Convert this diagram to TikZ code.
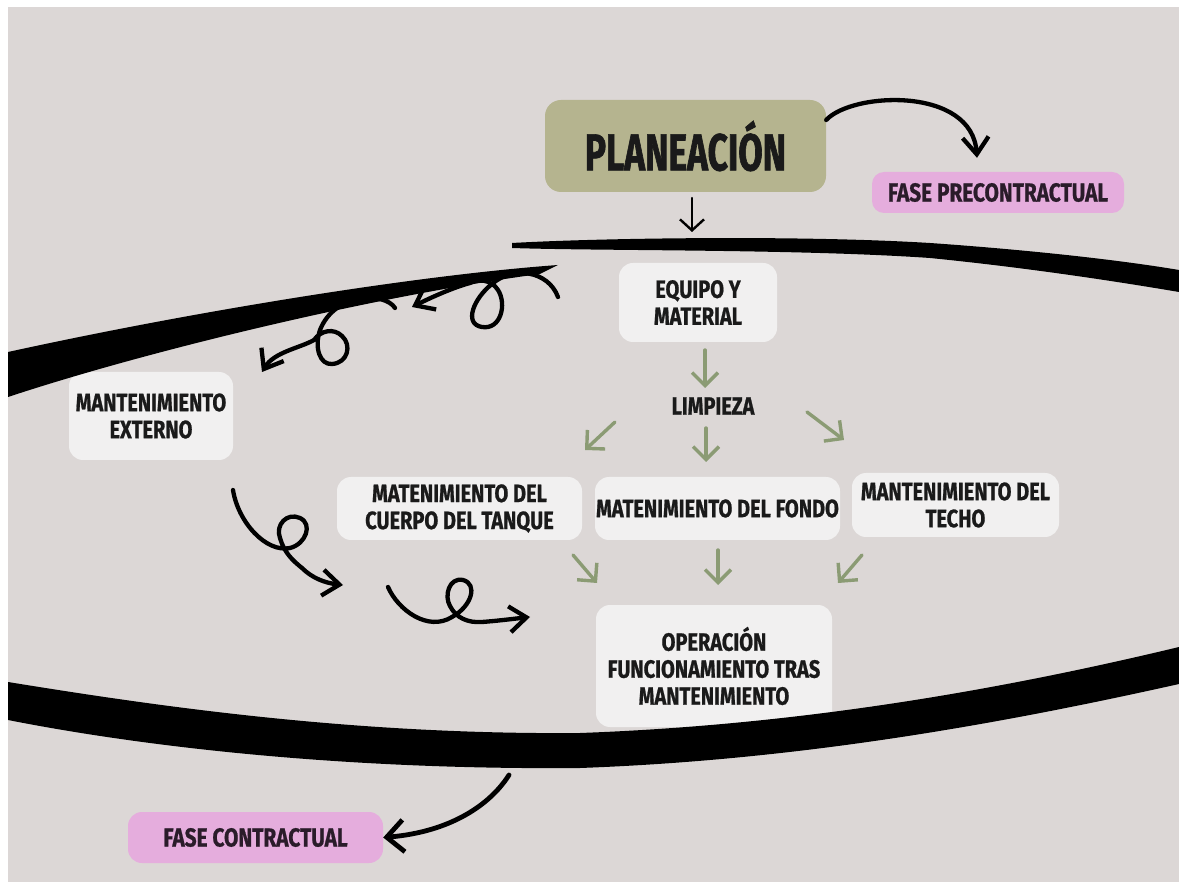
\documentclass[tikz,border=0pt]{standalone}
\usepackage{fontspec}
\setmainfont{Fira Sans}
\newfontfamily\bigf{Fira Sans}[FakeStretch=0.68, FakeBold=1.2]
\newfontfamily\smf{Fira Sans}[FakeStretch=0.8, FakeBold=0.8]
\usetikzlibrary{arrows.meta}
\definecolor{bgc}{HTML}{DCD7D6}
\definecolor{boxc}{HTML}{F1F0F0}
\definecolor{olivec}{HTML}{B5B48F}
\definecolor{pinkc}{HTML}{E5ADDD}
\definecolor{greenc}{HTML}{8B9B74}
\definecolor{txtc}{HTML}{1A1A1A}
\definecolor{txtp}{HTML}{2A1C2A}
\tikzset{
  box/.style={rounded corners=14pt, fill=boxc, align=center, inner sep=0pt,
    text=txtc, font=\smf\bfseries\fontsize{25}{27}\selectfont},
  lbl/.style={align=center, inner sep=0pt, text=txtc, font=\smf\bfseries\fontsize{25}{27}\selectfont},
  swirl/.style={draw=black, line width=4.3pt, line cap=round, line join=round,
    -{Straight Barb[length=17pt,width=26pt]}},
  bigarrow/.style={draw=black, line width=4.8pt, line cap=round,
    -{Straight Barb[length=17pt,width=32pt]}},
  garrow/.style={draw=greenc, line width=3.4pt, line cap=round,
    -{Straight Barb[length=13pt,width=26pt]}},
  thinarrow/.style={draw=black, line width=2.4pt, line cap=round,
    -{Straight Barb[length=11pt,width=24pt]}},
  band/.style={fill=black}
}
\begin{document}
\begin{tikzpicture}[x=1pt,y=-1pt]
\useasboundingbox (0,0) rectangle (1179,882);
\fill[white] (0,0) rectangle (1179,882);
\fill[bgc] (8,7) rectangle (1179,882);

% nodes
\node[box, fill=olivec, minimum width=281pt, minimum height=92pt, rounded corners=16pt,
  font=\bigf\bfseries\fontsize{52}{54}\selectfont] (plan) at (685.5,146) {PLANEACIÓN};
\node[box, fill=pinkc, text=txtp, minimum width=252pt, minimum height=41pt, rounded corners=12pt,
  font=\smf\bfseries\fontsize{26}{28}\selectfont]
  (pre) at (998,192.5) {FASE PRECONTRACTUAL};
\node[box, minimum width=158pt, minimum height=79pt] (eq) at (698,302.5) {EQUIPO Y\\MATERIAL};
\node[lbl] (limp) at (713,406) {LIMPIEZA};
\node[box, minimum width=164pt, minimum height=88pt] (ext) at (151,416) {MANTENIMIENTO\\EXTERNO};
\node[box, minimum width=245pt, minimum height=63pt] (cuer) at (459.5,508.5) {MATENIMIENTO DEL\\CUERPO DEL TANQUE};
\node[box, minimum width=245pt, minimum height=63pt] (fondo) at (717.5,508.5) {MATENIMIENTO DEL FONDO};
\node[box, minimum width=207pt, minimum height=64pt] (techo) at (955.5,505) {MANTENIMIENTO DEL\\TECHO};
\node[box, minimum width=236pt, minimum height=122pt] (oper) at (714,666) {OPERACIÓN\\FUNCIONAMIENTO TRAS\\MANTENIMIENTO};
\node[box, fill=pinkc, text=txtp, minimum width=255pt, minimum height=51pt, rounded corners=14pt,
  font=\smf\bfseries\fontsize{26}{28}\selectfont]
  (contr) at (255.5,837.5) {FASE CONTRACTUAL};

% brush bands
\fill[band] (512,243) .. controls (600,238) and (800,235) .. (930,243)
  .. controls (1030,250) and (1120,260) .. (1179,270) -- (1179,292)
  .. controls (1120,282) and (1030,268) .. (930,258)
  .. controls (800,249) and (600,251) .. (512,248) -- cycle;
\fill[band] (558,265) .. controls (420,275) and (200,310) .. (8,352) -- (8,397)
  .. controls (150,350) and (380,295) .. (540,274) -- cycle;
\fill[band] (8,682) .. controls (150,705) and (350,735) .. (580,733)
  .. controls (800,725) and (1000,690) .. (1179,647) -- (1179,684)
  .. controls (1000,724) and (800,760) .. (580,768)
  .. controls (350,770) and (150,748) .. (8,720) -- cycle;

% coordinates for free ends
\coordinate (sA) at (558,297);
\coordinate (eA) at (412,307);
\coordinate (sB) at (395,308);
\coordinate (eB) at (262,372);
\coordinate (sC) at (233,490);
\coordinate (eC) at (343,585);
\coordinate (sD) at (388,587);
\coordinate (eD) at (530,617);
\coordinate (sK) at (509,775);
\coordinate (g1a) at (705,350);
\coordinate (g1b) at (705,388);
\coordinate (g2a) at (615,422);
\coordinate (g2b) at (585,450);
\coordinate (g3a) at (706,428);
\coordinate (g3b) at (706,462);
\coordinate (g4a) at (807,412);
\coordinate (g4b) at (844,440);
\coordinate (g5a) at (573,555);
\coordinate (g5b) at (597,583);
\coordinate (g6a) at (718,550);
\coordinate (g6b) at (718,585);
\coordinate (g7a) at (862,555);
\coordinate (g7b) at (838,583);
\coordinate (dA) at (692,198);
\coordinate (dB) at (692,232);

% black connectors
\draw[swirl] ([yshift=26pt]plan.east) .. controls (852,92) and (972,86) .. ([xshift=-21pt,yshift=14pt]pre.north);
\draw[thinarrow] (dA) -- (dB);

% swirl A (top, right)
\draw[swirl] (sA) .. controls (548,270) and (512,266) .. (492,284)
  .. controls (474,298) and (463,324) .. (482,327)
  .. controls (501,330) and (507,304) .. (498,290)
  .. controls (491,279) and (478,279) .. (470,283)
  .. controls (455,287) and (434,296) .. (eA);
% swirl B (top, left) towards external maintenance
\draw[swirl] (sB) .. controls (385,292) and (335,292) .. (320,330)
  .. controls (314,348) and (320,365) .. (332,364)
  .. controls (348,363) and (352,345) .. (342,336)
  .. controls (334,328) and (321,330) .. (314,340)
  .. controls (300,348) and (274,352) .. (eB);
% swirl C (lower left)
\draw[swirl] (sC) .. controls (238,522) and (266,553) .. (290,548)
  .. controls (306,544) and (313,524) .. (300,518)
  .. controls (287,512) and (275,525) .. (280,538)
  .. controls (284,552) and (292,560) .. (302,568)
  .. controls (312,578) and (325,583) .. (eC);
% swirl D (lower, towards operation)
\draw[swirl] (sD) .. controls (398,610) and (428,632) .. (452,617)
  .. controls (472,606) and (478,584) .. (463,580)
  .. controls (449,577) and (444,596) .. (450,606)
  .. controls (456,618) and (468,623) .. (482,622)
  .. controls (496,621) and (512,619) .. (eD);

% to contractual phase
\draw[bigarrow] (sK) .. controls (490,805) and (450,832) .. (contr.east);

% green arrows
\draw[garrow] (g1a) -- (g1b);
\draw[garrow] (g2a) -- (g2b);
\draw[garrow] (g3a) -- (g3b);
\draw[garrow] (g4a) -- (g4b);
\draw[garrow] (g5a) -- (g5b);
\draw[garrow] (g6a) -- (g6b);
\draw[garrow] (g7a) -- (g7b);
\end{tikzpicture}
\end{document}
